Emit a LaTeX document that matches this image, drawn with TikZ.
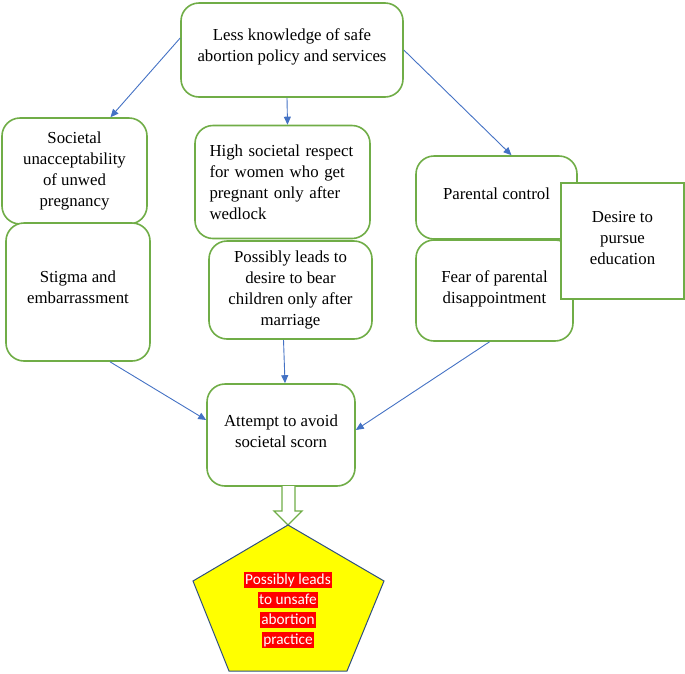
\documentclass[tikz,border=0pt]{standalone}
\usepackage{fontspec}
\setmainfont{Liberation Serif}
\newfontfamily\calibrifont{Carlito}
\usetikzlibrary{arrows.meta}
\definecolor{boxgreen}{HTML}{70AD47}
\definecolor{linkblue}{HTML}{4472C4}
\definecolor{warnred}{HTML}{FF0000}
\definecolor{warnyellow}{HTML}{FFFF00}
\definecolor{pentedge}{HTML}{2F4F7F}
\newcommand{\redline}[1]{{\setlength{\fboxsep}{1.2pt}\colorbox{warnred}{\vphantom{Pp}#1}}}
\begin{document}
\begin{tikzpicture}[x=1pt, y=-1pt,
		box/.style={draw=boxgreen, line width=1.6pt, fill=white, rounded corners=18pt, align=center, font=\fontsize{16.8}{21}\selectfont},
		sqbox/.style={draw=boxgreen, line width=1.6pt, fill=white, align=center, font=\fontsize{16.8}{21}\selectfont},
		link/.style={linkblue, line width=0.9pt, -{Triangle[length=8pt, width=7pt]}},
		hollow/.style={draw=boxgreen, line width=1.3pt, fill=white}]
	\useasboundingbox (0,0) rectangle (685,673);
	\node[box, minimum width=222, minimum height=94] (knowledge) at (292,50) {Less knowledge of safe\\abortion policy and services\\[-11pt]};
	\node[box, minimum width=145, minimum height=106] (soc) at (74.5,171) {Societal\\unacceptability\\of unwed\\pregnancy};
	\node[box, minimum width=144, minimum height=138] (stigma) at (78,292) {Stigma and\\embarrassment\\[-11pt]};
	\node[box, minimum width=175, minimum height=113, text width=146, align=left] (high) at (282.5,182) {High societal respect\\for women who get\\pregnant only after\\wedlock\\[-13pt]};
	\node[box, minimum width=163, minimum height=98] (possibly) at (290.5,290) {Possibly leads to\\desire to bear\\children only after\\marriage};
	\node[box, minimum width=161, minimum height=83] (parental) at (496.5,197.5) {Parental control\\[-13pt]};
	\node[box, minimum width=157, minimum height=101] (fear) at (494.5,290.5) {Fear of parental\\disappointment\\[-15pt]};
	\node[sqbox, minimum width=123, minimum height=116] (desire) at (622.5,241) {Desire to\\pursue\\education\\[-15pt]};
	\node[box, minimum width=148, minimum height=102] (attempt) at (281,435) {Attempt to avoid\\societal scorn\\[-13pt]};
	\coordinate (pentop) at (288,525);
	\draw[hollow] (282,486) -- (282,511) -- (274,511) -- (pentop) -- (302,511) -- (295,511) -- (295,486);
	\draw[fill=warnyellow, draw=pentedge, line width=1pt] (pentop) -- (384,581) -- (347,671) -- (229,671) -- (193,581) -- cycle;
	\node[font=\calibrifont\fontsize{15.3}{20}\selectfont, text=white, align=center] (unsafe) at (288,610) {\redline{Possibly leads}\\\redline{to unsafe}\\\redline{abortion}\\\redline{practice}};
	\draw[link] ([yshift=12pt]knowledge.west) -- ([xshift=36pt]soc.north);
	\draw[link] ([xshift=-5pt]knowledge.south) -- ([xshift=5pt]high.north);
	\draw[link] (knowledge.east) -- ([xshift=15pt]parental.north);
	\draw[link] ([xshift=32pt]stigma.south) -- ([yshift=15pt]attempt.west);
	\draw[link] ([xshift=-7pt]possibly.south) -- ([xshift=4pt]attempt.north);
	\draw[link] ([xshift=-5pt]fear.south) -- ([yshift=5pt]attempt.east);
\end{tikzpicture}
\end{document}
